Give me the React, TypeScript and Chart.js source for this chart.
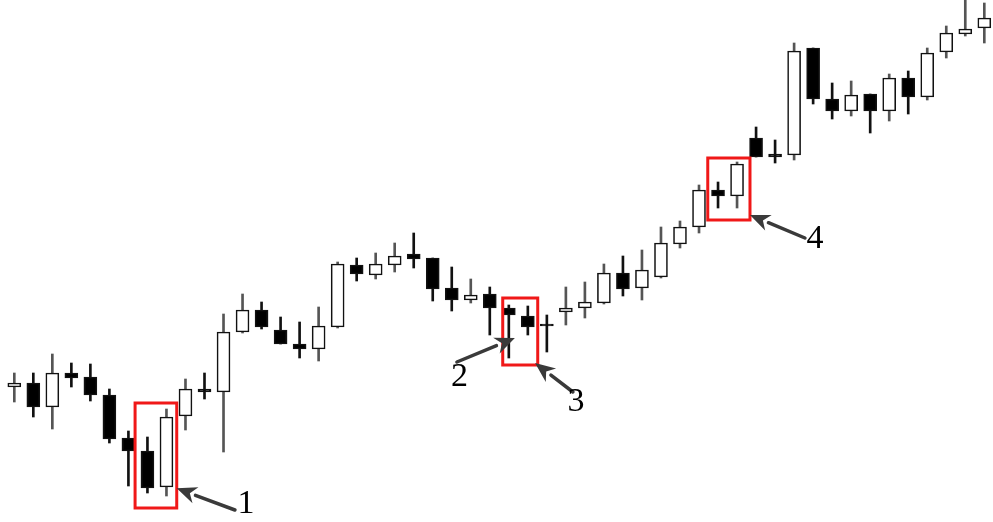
import React, { useEffect, useRef } from "react";
import { Chart, registerables } from "chart.js";

Chart.register(...registerables);

// OHLC series (price units), one entry per session
const opens = [135, 139, 115, 149, 145, 127, 84, 71, 35, 106, 133, 130, 190, 212, 192, 178, 173, 195, 257, 247, 257, 268, 264, 234, 222, 228, 214, 206, 198, 210, 214, 219, 249, 234, 245, 278, 295, 332, 326, 384, 368, 367, 474, 423, 411, 428, 411, 444, 425, 470, 488, 494];
const highs = [149, 149, 168, 159, 158, 133, 91, 85, 113, 143, 149, 208, 228, 220, 205, 200, 215, 260, 264, 269, 279, 289, 264, 255, 243, 235, 217, 216, 207, 235, 240, 258, 266, 272, 295, 301, 337, 340, 360, 395, 382, 479, 474, 439, 441, 428, 448, 451, 474, 496, 522, 519];
const lows = [120, 105, 93, 135, 121, 79, 36, 29, 26, 92, 123, 70, 189, 193, 178, 164, 161, 194, 241, 243, 250, 254, 221, 211, 219, 187, 164, 187, 170, 197, 204, 218, 226, 222, 244, 274, 289, 314, 314, 365, 359, 362, 418, 403, 406, 389, 401, 408, 422, 464, 486, 479];
const closes = [139, 115, 149, 144, 127, 83, 71, 34, 105, 133, 130, 190, 212, 195, 178, 173, 196, 258, 248, 258, 266, 263, 233, 222, 227, 214, 207, 195, 196, 214, 220, 249, 233, 252, 279, 295, 332, 326, 358, 365, 365, 471, 423, 411, 427, 411, 444, 425, 469, 489, 493, 504];

// Highlight boxes: [fromIndex, toIndex, topPrice, bottomPrice]
const boxes = [
  [6.35, 8.54, 119, 14],
  [25.68, 27.52, 224, 157],
  [36.46, 38.68, 364, 302],
];
// Arrows: [tailIndex, tailPrice, tipIndex, tipPrice]
const arrows = [
  [11.6, 12, 8.54, 33.7],
  [23.27, 160, 26.32, 184],
  [29.37, 130, 27.38, 159],
  [41.57, 284, 38.68, 307],
];
// Labels: [text, index, price]
const labels: [string, number, number][] = [
  ["1", 12.18, 19.5],
  ["2", 23.41, 147],
  ["3", 29.53, 122],
  ["4", 42.1, 284.5],
];

const annotationPlugin = {
  id: "annots",
  afterDatasetsDraw(chart: any) {
    const ctx = chart.ctx;
    const xs = chart.scales.x;
    const ys = chart.scales.y;
    ctx.save();
    ctx.strokeStyle = "#f01818";
    ctx.lineWidth = 3;
    for (const b of boxes) {
      const x0 = xs.getPixelForValue(b[0]);
      const x1 = xs.getPixelForValue(b[1]);
      const y0 = ys.getPixelForValue(b[2]);
      const y1 = ys.getPixelForValue(b[3]);
      ctx.strokeRect(x0, y0, x1 - x0, y1 - y0);
    }
    ctx.strokeStyle = "#3a3a3a";
    ctx.fillStyle = "#3a3a3a";
    ctx.lineWidth = 3.5;
    ctx.lineCap = "round";
    for (const a of arrows) {
      const tx = xs.getPixelForValue(a[0]);
      const ty = ys.getPixelForValue(a[1]);
      const hx = xs.getPixelForValue(a[2]);
      const hy = ys.getPixelForValue(a[3]);
      const ang = Math.atan2(hy - ty, hx - tx);
      const headLen = 20;
      const headW = 8.5;
      const bx = hx - headLen * Math.cos(ang);
      const by = hy - headLen * Math.sin(ang);
      ctx.beginPath();
      ctx.moveTo(tx, ty);
      ctx.lineTo(bx, by);
      ctx.stroke();
      ctx.beginPath();
      ctx.moveTo(hx, hy);
      ctx.lineTo(bx + headW * Math.sin(ang), by - headW * Math.cos(ang));
      ctx.lineTo(hx - (headLen - 6) * Math.cos(ang), hy - (headLen - 6) * Math.sin(ang));
      ctx.lineTo(bx - headW * Math.sin(ang), by + headW * Math.cos(ang));
      ctx.closePath();
      ctx.fill();
    }
    ctx.fillStyle = "#000";
    ctx.font = '34px "Liberation Serif", "DejaVu Serif", serif';
    ctx.textAlign = "center";
    ctx.textBaseline = "middle";
    for (const l of labels) {
      ctx.fillText(l[0], xs.getPixelForValue(l[1]), ys.getPixelForValue(l[2]) + 2);
    }
    ctx.restore();
  },
};

export default function App() {
  const ref = useRef<HTMLCanvasElement>(null);
  useEffect(() => {
    document.body.style.margin = "0";
    const up = opens.map((o, i) => closes[i] >= o);
    const chart = new Chart(ref.current!, {
      type: "bar",
      data: {
        datasets: [
          {
            label: "body",
            data: opens.map((o, i) => ({ x: i, y: [o, closes[i]] })) as any,
            backgroundColor: up.map((u) => (u ? "#ffffff" : "#000000")),
            borderColor: "#111111",
            borderWidth: 1.6,
            borderSkipped: false,
            barThickness: 13,
            grouped: false,
            order: 1,
          } as any,
          {
            label: "wick",
            data: lows.map((l, i) => ({ x: i, y: [l, highs[i]] })) as any,
            backgroundColor: up.map((u) => (u ? "#555555" : "#111111")),
            borderWidth: 0,
            barThickness: 2,
            grouped: false,
            order: 2,
          } as any,
        ],
      },
      options: {
        animation: false,
        responsive: false,
        maintainAspectRatio: false,
        devicePixelRatio: 1,
        layout: { padding: 0 },
        plugins: { legend: { display: false }, tooltip: { enabled: false } },
        scales: {
          x: { type: "linear", min: -0.752, max: 51.457, display: false, offset: false, grid: { offset: false } },
          y: { type: "linear", min: 0, max: 522, display: false },
        },
      } as any,
      plugins: [annotationPlugin],
    });
    return () => chart.destroy();
  }, []);
  return (
    <div style={{ width: 993, height: 522, background: "#fff" }}>
      <canvas ref={ref} width={993} height={522} />
    </div>
  );
}
